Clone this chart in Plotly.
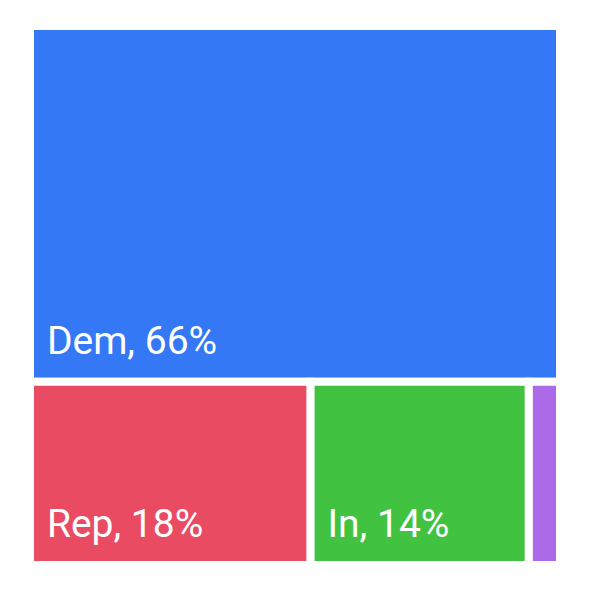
import plotly.graph_objects as go

parties = ["Dem", "Rep", "In", "Other"]
shares = [66, 18, 14, 2]
colors = ["#3478F6", "#E94B63", "#41C241", "#AD6AE8"]

# small leading gap + small trailing line to push the label off the tile edge
label_tpl = ("<span style='font-size:28px'>\u00a0\u00a0</span>"
             "<span style='font-size:39px'>%{label}, %{value}%</span><br>\u00a0")

fig = go.Figure(go.Treemap(
    labels=parties,
    parents=["", "", "", ""],
    values=shares,
    texttemplate=label_tpl,
    textposition="bottom left",
    textfont=dict(family="Roboto", size=16, color="white"),
    marker=dict(colors=colors, line=dict(color="white", width=8),
                pad=dict(t=0, l=0, r=0, b=0)),
    tiling=dict(packing="squarify", pad=0),
    pathbar=dict(visible=False),
    sort=True,
    hoverinfo="skip",
))

fig.update_layout(
    width=595, height=595,
    margin=dict(l=22, r=43, t=18, b=38),
    paper_bgcolor="white",
    uniformtext=dict(minsize=10, mode="hide"),
    showlegend=False,
)

fig.write_html("out.html")
